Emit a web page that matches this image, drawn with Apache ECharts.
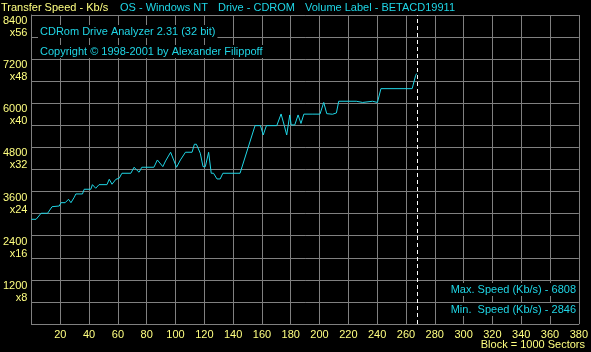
<!DOCTYPE html>
<html>
<head>
<meta charset="utf-8">
<script src="https://cdn.jsdelivr.net/npm/echarts@6/dist/echarts.min.js"></script>
<style>
html,body{margin:0;padding:0;background:#000;}
#c{width:591px;height:352px;}
</style>
</head>
<body>
<div id="c"></div>
<script>
// ---- data ----
var blocks = [0,3.2,6.7,11.2,14.3,19.3,20.5,23.4,25.7,27.4,29.7,30.8,35.4,36.6,41.2,42.3,44.6,46.9,52.4,54,55.9,58.6,60.9,62.8,69,71.2,72.4,74.7,76.6,85,87.4,88.5,91.2,93.1,96.6,100.7,103.4,104.6,106.9,111.5,113.1,114.5,117.2,119.1,120.7,123,124.8,126.4,128.8,131,132.9,144.8,155.2,159,160.9,163.1,170.3,173.3,175.5,177.2,179.3,180.3,182.8,185.1,187.1,189.1,195.4,196.6,200.3,202.9,205,209,210.3,211.7,213.3,225.5,226.4,229.9,231,236.8,237.9,240.2,242.6,264.3,266.7,267.4,267.8];
var speeds = [2846,2846,3010,3010,3189,3208,3298,3298,3391,3298,3445,3535,3535,3663,3663,3788,3690,3788,3788,3934,3799,3934,3962,4098,4098,4261,4261,4125,4261,4261,4459,4459,4277,4432,4669,4261,4459,4459,4669,4669,4886,4886,4641,4277,4277,4669,4098,4098,3943,3943,4098,4098,5392,5392,5139,5392,5392,5710,5397,5139,5683,5411,5411,5683,5452,5705,5705,5677,5705,6023,5718,5702,5669,5737,6055,6055,6023,6023,6055,6055,6023,6023,6398,6398,6757,6808,6743];
var endBlock = 267.6;
var xTicks = [0,20,40,60,80,100,120,140,160,180,200,220,240,260,280,300,320,340,360,380];
var yTicks = [1200,2400,3600,4800,6000,7200,8400];
var headerTexts = ['Transfer Speed - Kb/s','OS - Windows NT','Drive - CDROM','Volume Label - BETACD19911'];
var infoTexts = ['CDRom Drive Analyzer 2.31 (32 bit)','Copyright \u00A9 1998-2001 by Alexander Filippoff'];
var maxSpeed = 6808, minSpeed = 2846;

// ---- style ----
var YEL = '#ffff80', CY = '#1fd6e6', GR = '#808080';
var FONT = '"Liberation Sans", Arial, sans-serif';
function txt(s, color, pos, bg) {
  var o = {type:'text', z:100, style:{text:s, fill:color, font:'11px ' + FONT}};
  for (var k in pos) o[k] = pos[k];
  if (bg) { o.style.backgroundColor = '#000'; o.style.padding = [1,2,1,2]; }
  return o;
}

var chart = echarts.init(document.getElementById('c'), null, {renderer:'canvas'});
chart.setOption({
  backgroundColor:'#000',
  animation:false,
  grid:{left:30,right:10,top:15,bottom:28,containLabel:false},
  xAxis:{type:'value',min:0,max:380,interval:20,
    axisLine:{show:true,lineStyle:{color:GR,width:1}},
    axisTick:{show:false},
    splitLine:{show:true,lineStyle:{color:GR,width:1}},
    axisLabel:{color:YEL,fontSize:11,fontFamily:FONT,margin:5,
      formatter:function(v){return xTicks.indexOf(v)>0 ? String(v) : '';}}},
  yAxis:{type:'value',min:0,max:8400,interval:600,
    axisLine:{show:true,lineStyle:{color:GR,width:1}},
    axisTick:{show:false},
    splitLine:{show:true,lineStyle:{color:GR,width:1}},
    axisLabel:{color:YEL,fontSize:11,fontFamily:FONT,margin:4,verticalAlign:'top',lineHeight:12,
      formatter:function(v){return yTicks.indexOf(v)>=0 ? (v + '\nx' + (v/150)) : '';}}},
  series:[{type:'line',data:blocks.map(function(b,i){return [b,speeds[i]];}),
    showSymbol:false,symbol:'none',lineStyle:{color:CY,width:1},z:5,
    markLine:{silent:true,symbol:'none',label:{show:false},
      lineStyle:{color:'#ffffff',type:[4,3],width:1},
      data:[{xAxis:endBlock}]}}],
  graphic:[
    txt(headerTexts[0], YEL, {left:1, top:2}),
    txt(headerTexts[1], CY, {left:120, top:2}),
    txt(headerTexts[2], CY, {left:218, top:2}),
    txt(headerTexts[3], CY, {left:305, top:2}),
    txt(infoTexts[0], CY, {left:38, top:25}, true),
    txt(infoTexts[1], CY, {left:38, top:45}, true),
    txt('Max. Speed (Kb/s) - ' + maxSpeed, CY, {right:13, top:283}, true),
    txt('Min.  Speed (Kb/s) - ' + minSpeed, CY, {right:13, top:303}, true),
    txt('Block = 1000 Sectors', YEL, {right:6, top:339})
  ]
});
</script>
</body>
</html>
